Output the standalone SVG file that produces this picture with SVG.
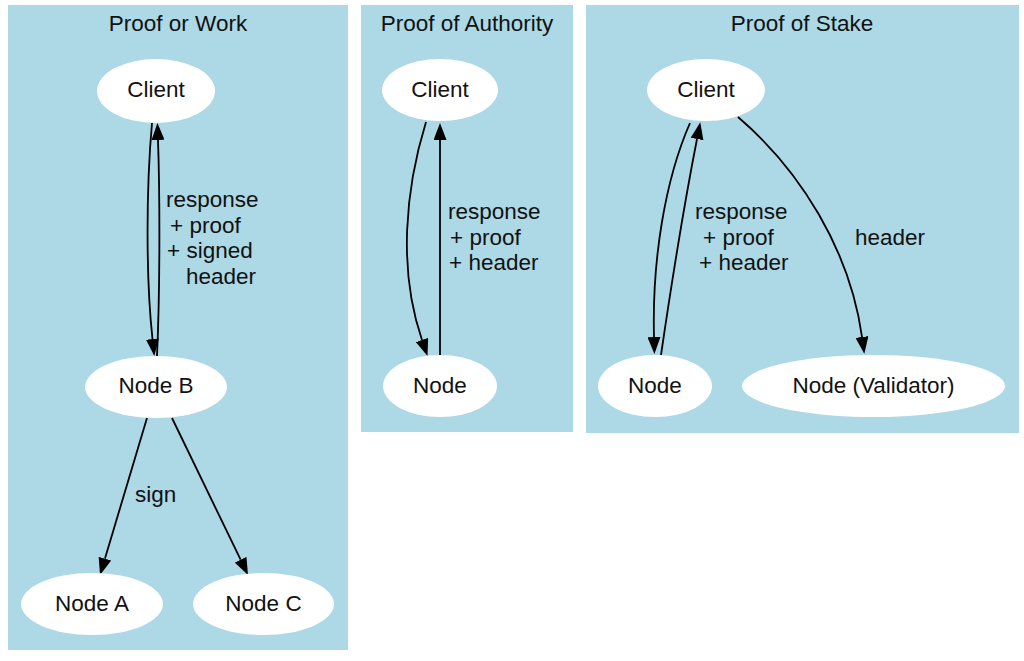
<svg xmlns="http://www.w3.org/2000/svg" width="1024" height="661" viewBox="0 0 1024 661">
<style>
.panel{fill:#add8e6;stroke:none}
.node{fill:#ffffff;stroke:none}
text{font-family:"Liberation Sans",Arial,sans-serif;font-size:22.5px;fill:#111}
.c{text-anchor:middle}
.edge{fill:none;stroke:#000;stroke-width:1.8}
</style>
<defs>
<marker id="arr" viewBox="0 0 17 13" refX="0" refY="6.5" markerWidth="17" markerHeight="13" markerUnits="userSpaceOnUse" orient="auto">
<path d="M0,0 L17,6.5 L0,13 z" fill="#000"/>
</marker>
</defs>
<rect width="1024" height="661" fill="#fff"/>
<g id="cluster-pow">
<rect class="panel" x="8" y="5" width="340" height="645"/>
<text class="c" x="178" y="31">Proof or Work</text>
</g>
<g id="cluster-poa">
<rect class="panel" x="361" y="5" width="212" height="427"/>
<text class="c" x="467" y="31">Proof of Authority</text>
</g>
<g id="cluster-pos">
<rect class="panel" x="586" y="5" width="433" height="428"/>
<text class="c" x="802" y="31">Proof of Stake</text>
</g>
<g id="connectors">
<path class="edge" marker-end="url(#arr)" d="M152,123 C146,190 146,280 152.5,339"/>
<path class="edge" marker-end="url(#arr)" d="M157,356 C160,290 160,200 158,140"/>
<path class="edge" marker-end="url(#arr)" d="M147,418 L104.9,558.7"/>
<path class="edge" marker-end="url(#arr)" d="M172,418 L240.6,559.7"/>
<path class="edge" marker-end="url(#arr)" d="M426,122 C405,190 398,270 422,340"/>
<path class="edge" marker-end="url(#arr)" d="M440,355 L440,140"/>
<path class="edge" marker-end="url(#arr)" d="M690,123 C665,180 652,260 654,337"/>
<path class="edge" marker-end="url(#arr)" d="M661,355 C672,280 685,200 697,139"/>
<path class="edge" marker-end="url(#arr)" d="M738,117 C800,170 850,250 862,337"/>
<text x="166" y="207">response</text>
<text x="170" y="233">+ proof</text>
<text x="167" y="258">+ signed</text>
<text x="186" y="284">header</text>
<text x="135" y="502">sign</text>
<text x="448" y="219">response</text>
<text x="450" y="245">+ proof</text>
<text x="449" y="270">+ header</text>
<text x="695" y="219">response</text>
<text x="703" y="245">+ proof</text>
<text x="699" y="270">+ header</text>
<text x="855" y="245">header</text>
</g>
<g id="pow-client"><ellipse class="node" cx="156" cy="91" rx="59" ry="32"/><text class="c" x="156" y="97">Client</text></g>
<g id="pow-nodeb"><ellipse class="node" cx="156" cy="387" rx="71" ry="31"/><text class="c" x="156" y="393">Node B</text></g>
<g id="pow-nodea"><ellipse class="node" cx="92" cy="604" rx="71" ry="31"/><text class="c" x="92" y="611">Node A</text></g>
<g id="pow-nodec"><ellipse class="node" cx="263.5" cy="604" rx="70.5" ry="31"/><text class="c" x="263.5" y="611">Node C</text></g>
<g id="poa-client"><ellipse class="node" cx="440" cy="90" rx="58" ry="31"/><text class="c" x="440" y="97">Client</text></g>
<g id="poa-node"><ellipse class="node" cx="440" cy="386" rx="57" ry="31"/><text class="c" x="440" y="393">Node</text></g>
<g id="pos-client"><ellipse class="node" cx="706" cy="90" rx="59" ry="31"/><text class="c" x="706" y="97">Client</text></g>
<g id="pos-node"><ellipse class="node" cx="655" cy="386" rx="57" ry="31"/><text class="c" x="655" y="393">Node</text></g>
<g id="pos-validator"><ellipse class="node" cx="873.5" cy="386" rx="131.5" ry="31"/><text class="c" x="873.5" y="393">Node (Validator)</text></g>
</svg>
